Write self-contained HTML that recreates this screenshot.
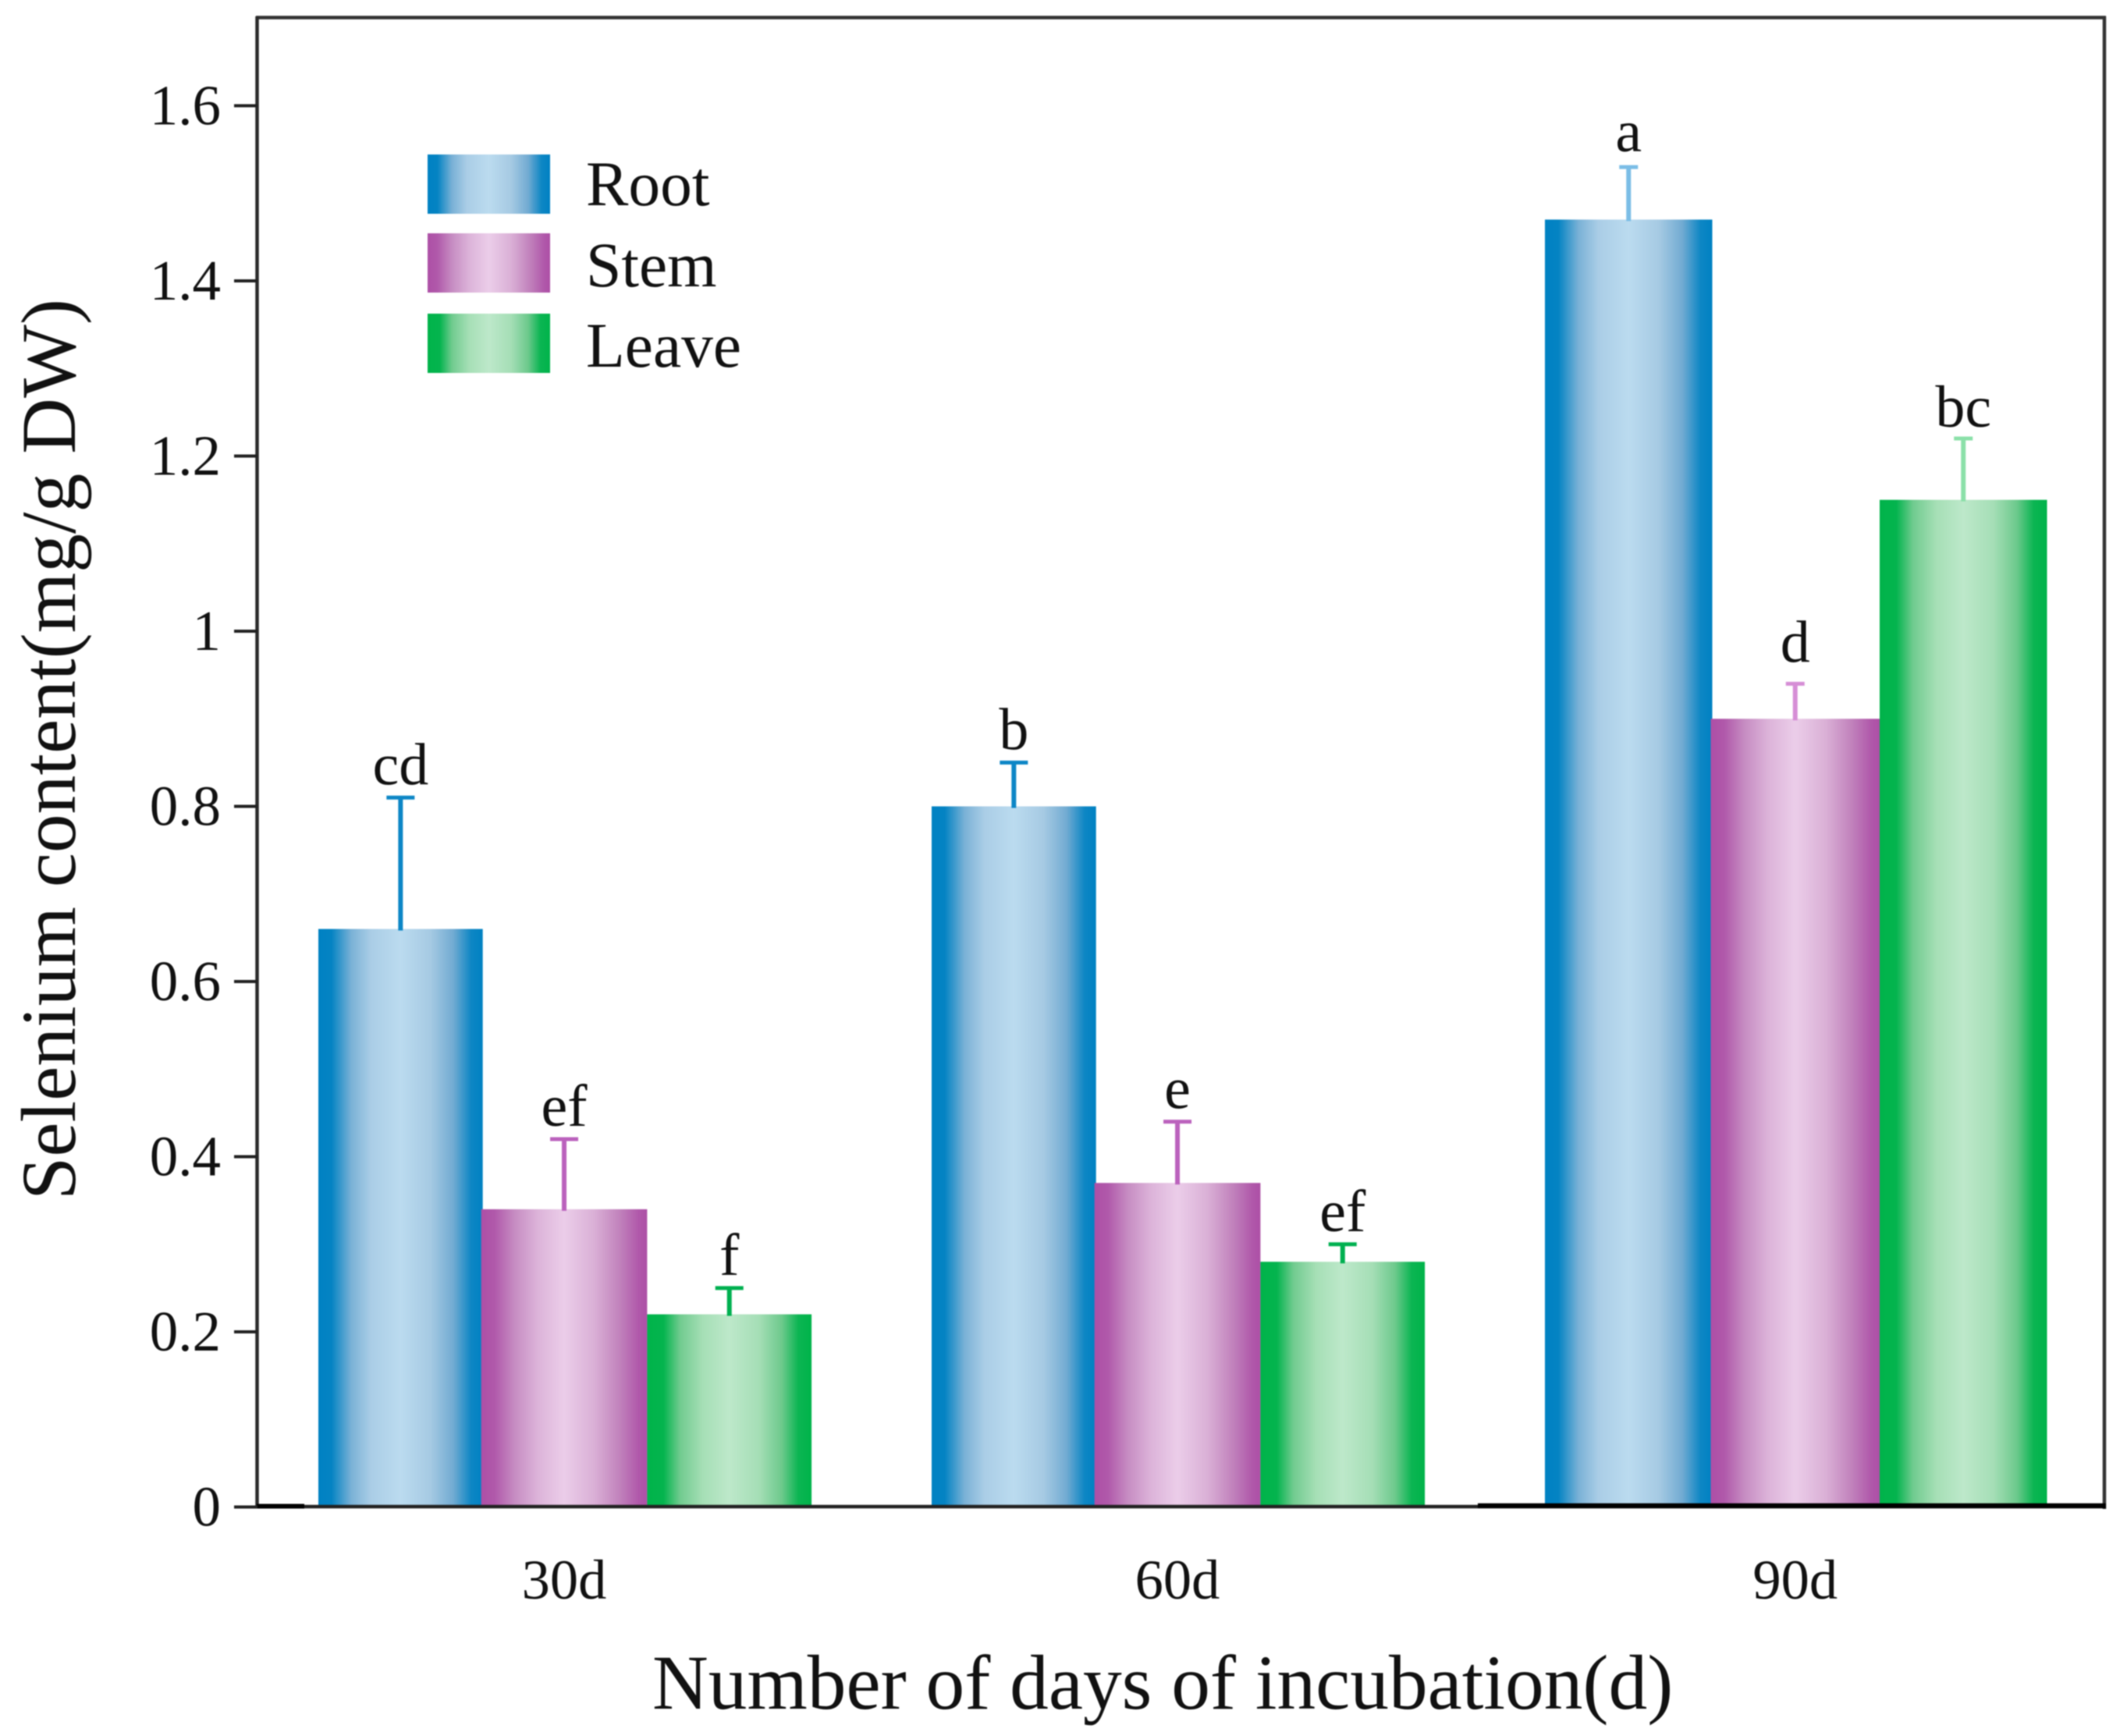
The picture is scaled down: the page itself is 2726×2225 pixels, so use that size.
<!DOCTYPE html>
<html lang="en">
<head>
<meta charset="utf-8">
<title>Selenium content by incubation time</title>
<style>
html,body{margin:0;padding:0;background:#fff;}
#chart{display:block;width:2726px;height:2225px;filter:blur(0.7px);}
text{font-family:"Liberation Serif","DejaVu Serif",serif;fill:#111;}
</style>
</head>
<body>
<svg id="chart" xmlns="http://www.w3.org/2000/svg" width="2726" height="2225" viewBox="0 0 2726 2225">
  <defs>
    <linearGradient id="grad-root" x1="0" x2="1" y1="0" y2="0">
      <stop offset="0" stop-color="#0081c2"/><stop offset="0.08" stop-color="#0483c3"/>
      <stop offset="0.2" stop-color="#79b1d6"/><stop offset="0.32" stop-color="#aacde6"/>
      <stop offset="0.5" stop-color="#bbdbef"/><stop offset="0.68" stop-color="#a6cae3"/>
      <stop offset="0.82" stop-color="#72abd2"/><stop offset="0.93" stop-color="#0d86c4"/><stop offset="1" stop-color="#0081c2"/>
    </linearGradient>
    <linearGradient id="grad-stem" x1="0" x2="1" y1="0" y2="0">
      <stop offset="0" stop-color="#ad4fa6"/><stop offset="0.08" stop-color="#b059aa"/>
      <stop offset="0.2" stop-color="#c68cc2"/><stop offset="0.34" stop-color="#dcb3d9"/>
      <stop offset="0.5" stop-color="#ebcde9"/><stop offset="0.68" stop-color="#dab0d6"/>
      <stop offset="0.84" stop-color="#c080bb"/><stop offset="0.95" stop-color="#b058aa"/><stop offset="1" stop-color="#ad4fa6"/>
    </linearGradient>
    <linearGradient id="grad-leave" x1="0" x2="1" y1="0" y2="0">
      <stop offset="0" stop-color="#00b34a"/><stop offset="0.1" stop-color="#04b44e"/>
      <stop offset="0.2" stop-color="#70cb8f"/><stop offset="0.34" stop-color="#a6dfb6"/>
      <stop offset="0.5" stop-color="#bde8ca"/><stop offset="0.68" stop-color="#a5deb6"/>
      <stop offset="0.82" stop-color="#6cc98c"/><stop offset="0.92" stop-color="#0bb552"/><stop offset="1" stop-color="#00b34a"/>
    </linearGradient>
  </defs>
  <g id="bars"></g>
  <g id="errors"></g>
  <g id="sig"></g>
  <g id="axes">
    <line x1="328" x2="2699" y1="22.5" y2="22.5" stroke="#333" stroke-width="4.5"/>
    <line x1="329.5" x2="329.5" y1="21" y2="1933" stroke="#2a2a2a" stroke-width="4.5"/>
    <line x1="2697" x2="2697" y1="21" y2="1934" stroke="#333" stroke-width="4.5"/>
    <line x1="329" x2="1894" y1="1931" y2="1931" stroke="#222" stroke-width="4.5"/>
    <line x1="329" x2="390" y1="1930.5" y2="1930.5" stroke="#000" stroke-width="6"/>
    <line x1="1894" x2="2699" y1="1930" y2="1930" stroke="#000" stroke-width="6.5"/>
  </g>
  <g id="yticks"></g>
  <g id="xticks"></g>
  <text x="96" y="1538" font-size="99.5" transform="rotate(-90 96 1538)">Selenium content(mg/g DW)</text>
  <text x="836" y="2190" font-size="99.4">Number of days of incubation(d)</text>
  <g id="legend">
    <rect x="548" y="198" width="157" height="76" fill="url(#grad-root)"/>
    <text x="751" y="263" font-size="81.5">Root</text>
    <rect x="548" y="299" width="157" height="76" fill="url(#grad-stem)"/>
    <text x="751" y="367" font-size="81.5">Stem</text>
    <rect x="548" y="402" width="157" height="76" fill="url(#grad-leave)"/>
    <text x="751" y="470" font-size="81.5">Leave</text>
  </g>
</svg>
<script>
const categories = ["30d", "60d", "90d"];
const seriesNames = ["Root", "Stem", "Leave"];
const rootValues = [0.66, 0.80, 1.47];
const stemValues = [0.34, 0.37, 0.90];
const leaveValues = [0.22, 0.28, 1.15];
const rootErrors = [0.15, 0.05, 0.06];
const stemErrors = [0.08, 0.07, 0.04];
const leaveErrors = [0.03, 0.02, 0.07];
const rootLetters = ["cd", "b", "a"];
const stemLetters = ["ef", "e", "d"];
const leaveLetters = ["f", "ef", "bc"];
const yTickValues = [0, 0.2, 0.4, 0.6, 0.8, 1, 1.2, 1.4, 1.6];
const yTickLabels = ["0", "0.2", "0.4", "0.6", "0.8", "1", "1.2", "1.4", "1.6"];

const NS = "http://www.w3.org/2000/svg";
function yScale(v) { return 1931.5 - 1122.5 * v; }
function barWidth(g) { return g === 2 ? 214.5 : 210.7; }
function groupLeft(g) { return 408 + 786 * g; }
function barLeft(g, s) { return groupLeft(g) + s * barWidth(g) - (s === 1 ? 2 : 0); }
function groupCenter(g) { return groupLeft(g) + 1.5 * barWidth(g); }
function make(tag, attrs, parent) {
  const el = document.createElementNS(NS, tag);
  for (const k in attrs) el.setAttribute(k, attrs[k]);
  parent.appendChild(el);
  return el;
}
function errorColor(g, s) {
  if (g === 2) return ["#7bbde6", "#d68ed6", "#8be0a9"][s];
  return ["#0d86c6", "#bb62bd", "#00b050"][s];
}
function labelGap(letter) {
  if (letter === "d") return 28;
  if (letter === "a") return 20;
  if (letter === "bc") return 15;
  return 17;
}

const gradients = ["grad-root", "grad-stem", "grad-leave"];
const valuesBySeries = [rootValues, stemValues, leaveValues];
const errorsBySeries = [rootErrors, stemErrors, leaveErrors];
const lettersBySeries = [rootLetters, stemLetters, leaveLetters];
const barsLayer = document.getElementById("bars");
const errorsLayer = document.getElementById("errors");
const sigLayer = document.getElementById("sig");
const yLayer = document.getElementById("yticks");
const xLayer = document.getElementById("xticks");

categories.forEach(function (cat, g) {
  seriesNames.forEach(function (name, s) {
    const value = valuesBySeries[s][g];
    const upper = value + errorsBySeries[s][g];
    const w = barWidth(g) + (s === 1 ? 2 : 0);
    const x = barLeft(g, s);
    const cx = x + w / 2;
    const top = yScale(value);
    const capY = yScale(upper);
    const capHalf = g === 2 ? 12 : 18;
    const color = errorColor(g, s);
    const slug = name.toLowerCase() + "-" + cat;

    const bar = make("rect", { x: x, y: top, width: w, height: yScale(0) - top, fill: "url(#" + gradients[s] + ")" }, barsLayer);
    
    

    const whisker = make("line", { x1: cx, x2: cx, y1: capY, y2: top + 2, stroke: color, "stroke-width": 6 }, errorsLayer);
    
    

    const cap = make("line", { x1: cx - capHalf, x2: cx + capHalf, y1: capY, y2: capY, stroke: color, "stroke-width": 5 }, errorsLayer);
    
    

    const letter = lettersBySeries[s][g];
    const sig = make("text", { x: cx, y: capY - labelGap(letter), "font-size": 76, "text-anchor": "middle" }, sigLayer);
    sig.textContent = letter;
    
    
  });

  const xLabel = make("text", { x: groupCenter(g) - 1, y: 2049, "font-size": 72.5, "text-anchor": "middle" }, xLayer);
  xLabel.textContent = cat;
  
  
});

yTickValues.forEach(function (v, i) {
  const y = yScale(v);
  const tick = make("line", { x1: 300, x2: 330, y1: y, y2: y, stroke: "#222", "stroke-width": 4 }, yLayer);
  
  

  const label = make("text", { x: 283, y: y + 24, "font-size": 73, "text-anchor": "end" }, yLayer);
  label.textContent = yTickLabels[i];
  
  
});
</script>
</body>
</html>
